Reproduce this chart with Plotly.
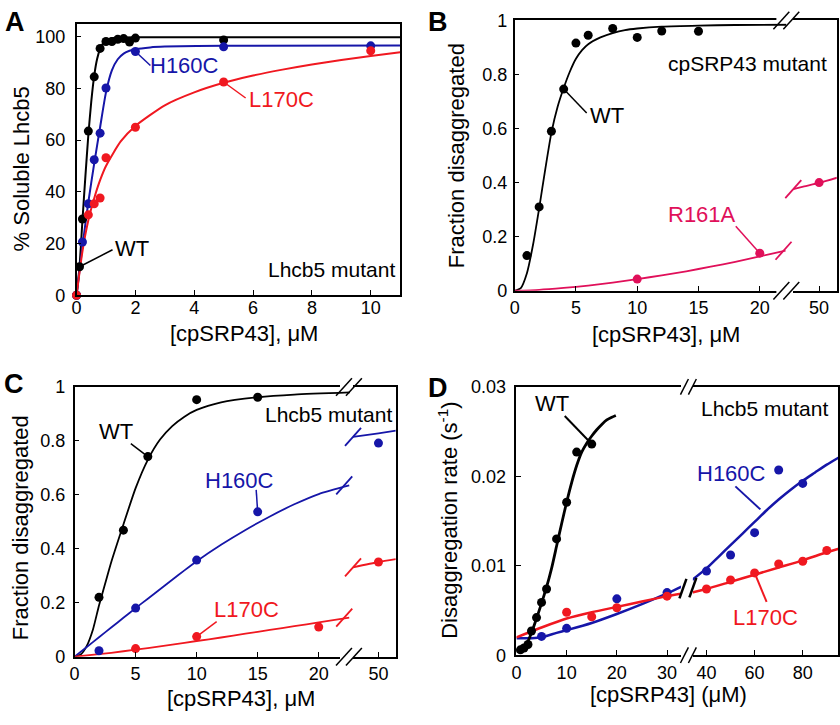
import plotly.graph_objects as go

W, H = 840, 725
FONT = "Liberation Sans, Arial, Helvetica, sans-serif"
BLACK, BLUE, RED, MAG = "#000000", "#1616a8", "#f01820", "#e0105a"

# ---------------- Panel A : % soluble Lhcb5 ----------------
a_x_wt = [0, 0.1, 0.2, 0.4, 0.6, 0.8, 1.0, 1.2, 1.4, 1.6, 1.8, 2.0, 5.0]
a_y_wt = [0, 11, 29.5, 63.5, 84.5, 95.5, 98.2, 98.2, 99.0, 99.3, 98.0, 99.5, 98.8]
a_x_h160c = [0, 0.2, 0.4, 0.6, 0.8, 1.0, 2.0, 5.0, 10.0]
a_y_h160c = [0, 20.6, 35.4, 52.4, 62.7, 80.2, 94.3, 96.1, 96.5]
a_x_l170c = [0, 0.4, 0.6, 0.8, 1.0, 2.0, 5.0, 10.0]
a_y_l170c = [0, 31.1, 35.4, 37.6, 53.2, 65.0, 82.5, 94.6]

a_fit_x_wt = [0, 0.1, 0.2, 0.3, 0.4, 0.5, 0.6, 0.7, 0.8, 0.9, 1.0, 1.2, 1.5, 2.0, 11]
a_fit_y_wt = [0, 11, 29, 46, 62, 75, 85, 91.5, 95.3, 97.5, 98.6, 99.4, 99.7, 99.8, 99.8]
a_fit_x_h160c = [0, 0.2, 0.4, 0.6, 0.8, 1.0, 1.2, 1.4, 1.6, 1.8, 2.0, 2.5, 3, 5, 11]
a_fit_y_h160c = [0, 19, 36, 51, 65, 78.5, 87, 91.3, 93.5, 94.6, 95.2, 95.9, 96.2, 96.5, 96.6]
a_fit_x_l170c = [0, 0.2, 0.4, 0.6, 0.8, 1, 1.5, 2, 3, 4, 5, 6, 7, 8, 9, 10, 11]
a_fit_y_l170c = [0, 17, 29, 37.5, 44.5, 50, 59.5, 65.5, 73.5, 78.5, 82.2, 85, 87.3, 89.3, 91, 92.6, 94]
a_xticks = [0, 2, 4, 6, 8, 10]
a_yticks = [0, 20, 40, 60, 80, 100]

# ---------------- Panel B : cpSRP43 mutant ----------------
b_x_wt = [1, 2, 3, 4, 5, 6, 8, 10, 12, 15]
b_y_wt = [0.13, 0.31, 0.59, 0.746, 0.916, 0.945, 0.970, 0.937, 0.961, 0.960]
b_x_r161a = [10, 20, 50]
b_y_r161a = [0.043, 0.139, 0.40]
b_fit_x_wt = [0, 0.5, 1, 1.5, 2, 2.5, 3, 3.5, 4, 4.5, 5, 5.5, 6, 7, 8, 9, 10, 12, 15, 18, 22.2]
b_fit_y_wt = [0, 0.01, 0.065, 0.17, 0.305, 0.45, 0.585, 0.68, 0.75, 0.81, 0.858, 0.89, 0.912,
              0.937, 0.953, 0.964, 0.970, 0.977, 0.981, 0.983, 0.984]
b_fit_x_r161a_l = [0, 2, 4, 6, 8, 10, 12, 14, 16, 18, 20, 22.1]
b_fit_y_r161a_l = [0, 0.0035, 0.0105, 0.019, 0.030, 0.043, 0.057, 0.072, 0.089, 0.107, 0.127, 0.148]
b_fit_x_r161a_r = [44.8, 47, 50, 53.6]
b_fit_y_r161a_r = [0.376, 0.386, 0.399, 0.418]
b_xticks_l = [0, 5, 10, 15, 20]
b_xticks_r = [50]
b_yticks = [0, 0.2, 0.4, 0.6, 0.8, 1]

# ---------------- Panel C : Lhcb5 mutant, fraction ----------------
c_x_wt = [2, 4, 6, 10, 15]
c_y_wt = [0.22, 0.469, 0.742, 0.953, 0.962]
c_x_h160c = [2, 5, 10, 15, 50]
c_y_h160c = [0.022, 0.18, 0.358, 0.537, 0.792]
c_x_l170c = [5, 10, 20, 50]
c_y_l170c = [0.030, 0.0745, 0.11, 0.351]
c_fit_x_wt = [0, 0.5, 1, 1.5, 2, 2.5, 3, 4, 5, 6, 7, 8, 9, 10, 12, 15, 18, 22.6]
c_fit_y_wt = [0, 0.008, 0.04, 0.1, 0.19, 0.27, 0.35, 0.49, 0.625, 0.73, 0.805, 0.855, 0.89,
              0.915, 0.943, 0.962, 0.972, 0.98]
c_fit_x_h160c_l = [0, 1, 2, 3, 4, 5, 6, 7, 8, 9, 10, 12, 14, 16, 18, 20, 22.5]
c_fit_y_h160c_l = [0, 0.036, 0.072, 0.108, 0.144, 0.18, 0.215, 0.25, 0.285, 0.32, 0.354,
                   0.415, 0.47, 0.52, 0.565, 0.603, 0.635]
c_fit_x_h160c_r = [43.6, 50, 54.4]
c_fit_y_h160c_r = [0.815, 0.828, 0.838]
c_fit_x_l170c_l = [0, 2, 4, 6, 8, 10, 12, 14, 16, 18, 20, 22.5]
c_fit_y_l170c_l = [0, 0.009, 0.02, 0.032, 0.045, 0.058, 0.071, 0.085, 0.099, 0.113, 0.127, 0.145]
c_fit_x_l170c_r = [43.6, 50, 54.4]
c_fit_y_l170c_r = [0.331, 0.351, 0.362]
c_xticks_l = [0, 5, 10, 15, 20]
c_xticks_r = [50]
c_yticks = [0, 0.2, 0.4, 0.6, 0.8, 1]

# ---------------- Panel D : disaggregation rate ----------------
d_x_wt = [0.8, 1.5, 2.3, 3, 4, 5, 6, 8, 10, 12, 15]
d_y_wt = [0.0006, 0.0008, 0.0012, 0.0027, 0.0042, 0.0059, 0.0074, 0.013, 0.0171, 0.0227, 0.0236]
d_x_h160c = [5, 10, 20, 30, 40, 50, 60, 70, 80]
d_y_h160c = [0.0021, 0.0030, 0.0063, 0.0070, 0.0094, 0.0112, 0.0137, 0.0207, 0.0192]
d_x_l170c = [10, 15, 20, 30, 40, 50, 60, 70, 80, 90]
d_y_l170c = [0.0048, 0.0043, 0.0053, 0.0066, 0.0074, 0.0084, 0.0092, 0.0102, 0.0105, 0.0117]
d_fit_x_wt = [0, 1, 2, 3, 4, 5, 6, 7, 8, 9, 10, 11, 12, 13, 14, 15, 16, 17, 18, 19, 19.8]
d_fit_y_wt = [0.0004, 0.0006, 0.0012, 0.0025, 0.0041, 0.0058, 0.0076, 0.0097, 0.0122, 0.0147,
              0.0171, 0.0193, 0.0212, 0.0227, 0.0237, 0.0245, 0.0252, 0.0258, 0.0263, 0.0266, 0.0268]
d_fit_x_h160c_l = [0, 3, 5, 8, 10, 15, 20, 25, 30, 33]
d_fit_y_h160c_l = [0.0019, 0.0019, 0.0020, 0.0025, 0.0028, 0.0036, 0.0046, 0.0057, 0.0069, 0.0077]
d_fit_x_h160c_r = [34, 40, 45, 50, 55, 60, 65, 70, 75, 80, 85, 90, 95]
d_fit_y_h160c_r = [0.0084, 0.0097, 0.0110, 0.0123, 0.0136, 0.0149, 0.0162, 0.0174, 0.0185,
                   0.0195, 0.0204, 0.0213, 0.0221]
d_fit_x_l170c_l = [0, 5, 10, 15, 20, 25, 30, 33]
d_fit_y_l170c_l = [0.0020, 0.0031, 0.0041, 0.0048, 0.0054, 0.0060, 0.0066, 0.0069]
d_fit_x_l170c_r = [34, 40, 50, 60, 70, 80, 90, 95]
d_fit_y_l170c_r = [0.0070, 0.0074, 0.0082, 0.0090, 0.0098, 0.0106, 0.0115, 0.0119]
d_xticks_l = [0, 10, 20, 30]
d_xticks_r = [40, 60, 80]
d_yticks = [0, 0.01, 0.02, 0.03]

# ---------------- layout geometry (pixels) ----------------
A_X, A_Y = (72, 397.5), (14, 293.3)
B_XL, B_XR, B_Y = (512.7, 786), (793, 836.7), (10.7, 288.7)
C_XL, C_XR, C_Y = (70, 347), (350, 393), (387.7, 665)
D_XL, D_XR, D_Y = (514.5, 680), (692, 838.3), (387.5, 663.5)

RNG = {
    "x": [0, 11], "y": [0, 105.1],
    "x2": [0, (B_XL[1] - B_XL[0]) / 12.33], "x3": [50 - (819 - B_XR[0]) / 5, 50 + (B_XR[1] - 819) / 5],
    "y2": [0, 1], "y3": [0, 1],
    "x4": [0, (C_XL[1] - C_XL[0]) / 12.28], "x5": [50 - (375.7 - C_XR[0]) / 4, 50 + (C_XR[1] - 375.7) / 4],
    "y4": [0, 1], "y5": [0, 1],
    "x6": [0, (D_XL[1] - D_XL[0]) / 5.05], "x7": [40 - (705.7 - D_XR[0]) / 2.42, 40 + (D_XR[1] - 705.7) / 2.42],
    "y6": [0, 0.03], "y7": [0, 0.03],
}


def PX(x):
    return x / W


def PY(y):
    return 1 - y / H


def dom(v, axid):
    r = RNG[axid]
    return (v - r[0]) / (r[1] - r[0])


TICKFONT = dict(family=FONT, size=18, color="black")


def xaxis(dpx, axid, anchor, tickvals, standoff=0):
    return dict(domain=[PX(dpx[0]), PX(dpx[1])], range=RNG[axid], anchor=anchor,
                showline=True, linecolor="black", linewidth=1.5, mirror=True,
                ticks="inside" if tickvals else "", ticklen=5, tickwidth=1.2, tickcolor="black",
                tickvals=tickvals, showticklabels=bool(tickvals), tickfont=TICKFONT,
                ticklabelstandoff=standoff,
                showgrid=False, zeroline=False, fixedrange=True)


def yaxis(dpx, axid, anchor, tickvals, side="left", mirror=False, ticktext=None, standoff=2):
    return dict(domain=[PY(dpx[1]), PY(dpx[0])], range=RNG[axid], anchor=anchor, side=side,
                showline=True, linecolor="black", linewidth=1.5, mirror=mirror,
                ticks="inside" if tickvals else "", ticklen=5, tickwidth=1.2, tickcolor="black",
                tickvals=tickvals, ticktext=ticktext, showticklabels=bool(tickvals),
                ticklabelstandoff=standoff,
                tickfont=TICKFONT, showgrid=False, zeroline=False, fixedrange=True)


fig = go.Figure()


def line(xs, ys, color, xa, ya, width=2):
    fig.add_trace(go.Scatter(x=xs, y=ys, mode="lines", xaxis=xa, yaxis=ya,
                             line=dict(color=color, width=width, shape="spline", smoothing=0.6),
                             hoverinfo="skip", showlegend=False))


def pts(xs, ys, color, xa, ya):
    fig.add_trace(go.Scatter(x=xs, y=ys, mode="markers", xaxis=xa, yaxis=ya, cliponaxis=False,
                             marker=dict(color=color, size=9, line=dict(width=0)),
                             hoverinfo="skip", showlegend=False))


def split_pts(xs, ys, cut, color, xl, yl, xr, yr):
    lx = [x for x in xs if x < cut]
    ly = [y for x, y in zip(xs, ys) if x < cut]
    rx = [x for x in xs if x >= cut]
    ry = [y for x, y in zip(xs, ys) if x >= cut]
    if lx:
        pts(lx, ly, color, xl, yl)
    if rx:
        pts(rx, ry, color, xr, yr)


# Panel A
line(a_fit_x_wt, a_fit_y_wt, BLACK, "x", "y")
line(a_fit_x_h160c, a_fit_y_h160c, BLUE, "x", "y")
line(a_fit_x_l170c, a_fit_y_l170c, RED, "x", "y")
pts(a_x_wt, a_y_wt, BLACK, "x", "y")
pts(a_x_h160c, a_y_h160c, BLUE, "x", "y")
pts(a_x_l170c, a_y_l170c, RED, "x", "y")

# Panel B
line(b_fit_x_wt, b_fit_y_wt, BLACK, "x2", "y2", 1.8)
line(b_fit_x_r161a_l, b_fit_y_r161a_l, MAG, "x2", "y2", 1.8)
line(b_fit_x_r161a_r, b_fit_y_r161a_r, MAG, "x3", "y3", 1.8)
pts(b_x_wt, b_y_wt, BLACK, "x2", "y2")
split_pts(b_x_r161a, b_y_r161a, 30, MAG, "x2", "y2", "x3", "y3")

# Panel C
line(c_fit_x_wt, c_fit_y_wt, BLACK, "x4", "y4", 1.8)
line(c_fit_x_h160c_l, c_fit_y_h160c_l, BLUE, "x4", "y4", 1.8)
line(c_fit_x_h160c_r, c_fit_y_h160c_r, BLUE, "x5", "y5", 1.8)
line(c_fit_x_l170c_l, c_fit_y_l170c_l, RED, "x4", "y4", 1.8)
line(c_fit_x_l170c_r, c_fit_y_l170c_r, RED, "x5", "y5", 1.8)
pts(c_x_wt, c_y_wt, BLACK, "x4", "y4")
split_pts(c_x_h160c, c_y_h160c, 30, BLUE, "x4", "y4", "x5", "y5")
split_pts(c_x_l170c, c_y_l170c, 30, RED, "x4", "y4", "x5", "y5")

# Panel D
line(d_fit_x_h160c_l, d_fit_y_h160c_l, BLUE, "x6", "y6", 2.5)
line(d_fit_x_h160c_r, d_fit_y_h160c_r, BLUE, "x7", "y7", 2.5)
line(d_fit_x_l170c_l, d_fit_y_l170c_l, RED, "x6", "y6", 2.5)
line(d_fit_x_l170c_r, d_fit_y_l170c_r, RED, "x7", "y7", 2.5)
line(d_fit_x_wt, d_fit_y_wt, BLACK, "x6", "y6", 2.8)
split_pts(d_x_h160c, d_y_h160c, 35, BLUE, "x6", "y6", "x7", "y7")
split_pts(d_x_l170c, d_y_l170c, 35, RED, "x6", "y6", "x7", "y7")
pts(d_x_wt, d_y_wt, BLACK, "x6", "y6")

shapes = []


def leader(x, y, dx, dy, color, xa, ya, width=1.5):
    shapes.append(dict(type="line", xref=f"{xa} domain", yref=f"{ya} domain",
                       xsizemode="pixel", ysizemode="pixel",
                       xanchor=dom(x, xa), yanchor=dom(y, ya),
                       x0=0, y0=0, x1=dx, y1=-dy, layer="below",
                       line=dict(color=color, width=width)))


def hook(x, y, color, xa, ya, shift=0, width=1.8):
    shapes.append(dict(type="line", xref=f"{xa} domain", yref=f"{ya} domain",
                       xsizemode="pixel", ysizemode="pixel",
                       xanchor=dom(x, xa), yanchor=dom(y, ya),
                       x0=-8 + shift, y0=-9, x1=8 + shift, y1=9, layer="above",
                       line=dict(color=color, width=width)))


def whiteout(x0, x1, yline):
    shapes.append(dict(type="rect", xref="paper", yref="paper", x0=PX(x0), x1=PX(x1),
                       y0=PY(yline + 3), y1=PY(yline - 3), fillcolor="white",
                       line=dict(width=0), layer="above"))


def slash(cx, cy, dx=8, dy=9, width=1.5):
    shapes.append(dict(type="line", xref="paper", yref="paper",
                       x0=PX(cx - dx), y0=PY(cy + dy), x1=PX(cx + dx), y1=PY(cy - dy),
                       layer="above", line=dict(color="black", width=width)))


# leaders
leader(a_x_wt[1], a_y_wt[1], 33, -17, BLACK, "x", "y")
leader(a_x_h160c[6], a_y_h160c[6], 15, 14, BLUE, "x", "y")
leader(a_x_l170c[6], a_y_l170c[6], 22, 16, RED, "x", "y")
leader(b_x_wt[3], b_y_wt[3], 23, 24, BLACK, "x2", "y2")
leader(b_x_r161a[1], b_y_r161a[1], -24, -27, MAG, "x2", "y2")
leader(c_x_wt[2], c_y_wt[2], -17, -13, BLACK, "x4", "y4")
leader(c_x_h160c[3], c_y_h160c[3], -1.5, -22, BLUE, "x4", "y4")
leader(c_x_l170c[1], c_y_l170c[1], 20, -15, RED, "x4", "y4")
leader(d_x_wt[-1], d_y_wt[-1], -27, -28, BLACK, "x6", "y6", 2)
leader(d_fit_x_h160c_r[5] + 2.4, 0.0163, -25, -23, BLUE, "x7", "y7", 2)
leader(d_x_l170c[6], d_y_l170c[6], 12, 29, RED, "x7", "y7", 2)

# hooks at the ends of broken fit curves
hook(b_fit_x_r161a_l[-1], b_fit_y_r161a_l[-1], MAG, "x2", "y2", -2)
hook(b_fit_x_r161a_r[0], b_fit_y_r161a_r[0], MAG, "x3", "y3")
hook(c_fit_x_h160c_l[-1], c_fit_y_h160c_l[-1], BLUE, "x4", "y4", -5)
hook(c_fit_x_h160c_r[0], c_fit_y_h160c_r[0], BLUE, "x5", "y5")
hook(c_fit_x_l170c_l[-1], c_fit_y_l170c_l[-1], RED, "x4", "y4", -5)
hook(c_fit_x_l170c_r[0], c_fit_y_l170c_r[0], RED, "x5", "y5")

# axis breaks
for yl in (B_Y[0], B_Y[1]):
    whiteout(776, 787.5, yl)
    slash(781, yl)
    slash(791, yl)
for yl in (C_Y[0], C_Y[1]):
    whiteout(337, 348.5, yl)
    slash(341, yl)
    slash(351, yl)
for yl in (D_Y[0], D_Y[1]):
    slash(683.5, yl, 4, 8)
    slash(691.5, yl, 4, 8)
slash(682, 595, 3.5, 10, 2.5)
slash(692, 594, 3.5, 10, 2.5)

ann = []


def text(x, y, s, size=22, color="black", xanchor="center", yanchor="middle", angle=0, bold=False):
    ann.append(dict(x=PX(x), y=PY(y), xref="paper", yref="paper", text=f"<b>{s}</b>" if bold else s,
                    showarrow=False, xanchor=xanchor, yanchor=yanchor, textangle=angle,
                    font=dict(family=FONT, size=size, color=color)))


# panel letters
text(10, 12, "A", 27, bold=True)
text(436, 12, "B", 27, bold=True)
text(9, 385, "C", 27, bold=True)
text(436, 389, "D", 27, bold=True)

# axis titles
text(240, 333, "[cpSRP43], μM", 22)
text(665, 334, "[cpSRP43], μM", 22)
text(237.5, 708, "[cpSRP43], μM", 22)
text(667, 704, "[cpSRP43] (μM)", 22)
text(17, 163, "% Soluble Lhcb5", 22, angle=-90)
text(455, 150, "Fraction disaggregated", 22, angle=-90)
text(15, 532, "Fraction disaggregated", 22, angle=-90)
text(445, 525, "Disaggregation rate (s<sup>-1</sup>)", 22, angle=-90)

# series labels
text(109, 245, "WT", xanchor="left")
text(144, 57, "H160C", color=BLUE, xanchor="left")
text(243, 92, "L170C", color=RED, xanchor="left")
text(394, 267, "Lhcb5 mutant", 21, xanchor="right")

text(586, 108, "WT", xanchor="left")
text(737, 210, "R161A", color=MAG, xanchor="right")
text(829, 55, "cpSRP43 mutant", 21, xanchor="right")

text(131, 433, "WT", xanchor="right")
text(236, 484, "H160C", color=BLUE)
text(243, 617, "L170C", color=RED)
text(391, 416, "Lhcb5 mutant", 21, xanchor="right")

text(550, 405, "WT")
text(768, 477, "H160C", color=BLUE, xanchor="right")
text(730, 625, "L170C", color=RED, xanchor="left")
text(830, 410, "Lhcb5 mutant", 21, xanchor="right")

YT01 = ["0", "0.2", "0.4", "0.6", "0.8", "1"]
fig.update_layout(
    width=W, height=H, autosize=False,
    margin=dict(l=0, r=0, t=0, b=0),
    paper_bgcolor="white", plot_bgcolor="white",
    showlegend=False,
    font=dict(family=FONT, color="black"),
    xaxis=xaxis(A_X, "x", "y", a_xticks, standoff=-5),
    yaxis=yaxis(A_Y, "y", "x", a_yticks, mirror=True, standoff=6),
    xaxis2=xaxis(B_XL, "x2", "y2", b_xticks_l),
    yaxis2=yaxis(B_Y, "y2", "x2", b_yticks, ticktext=YT01, standoff=2),
    xaxis3=xaxis(B_XR, "x3", "y3", b_xticks_r),
    yaxis3=yaxis(B_Y, "y3", "x3", None, side="right"),
    xaxis4=xaxis(C_XL, "x4", "y4", c_xticks_l),
    yaxis4=yaxis(C_Y, "y4", "x4", c_yticks, ticktext=YT01, standoff=4),
    xaxis5=xaxis(C_XR, "x5", "y5", c_xticks_r),
    yaxis5=yaxis(C_Y, "y5", "x5", None, side="right"),
    xaxis6=xaxis(D_XL, "x6", "y6", d_xticks_l),
    yaxis6=yaxis(D_Y, "y6", "x6", d_yticks, ticktext=["0", "0.01", "0.02", "0.03"], standoff=5),
    xaxis7=xaxis(D_XR, "x7", "y7", d_xticks_r),
    yaxis7=yaxis(D_Y, "y7", "x7", None, side="right"),
    shapes=shapes,
    annotations=ann,
)

fig.write_html(
    "out.html",
    config={"displayModeBar": False},
    post_script="document.body.style.margin='0px';"
                "document.documentElement.style.overflow='hidden';"
                "document.body.style.overflow='hidden';",
)
